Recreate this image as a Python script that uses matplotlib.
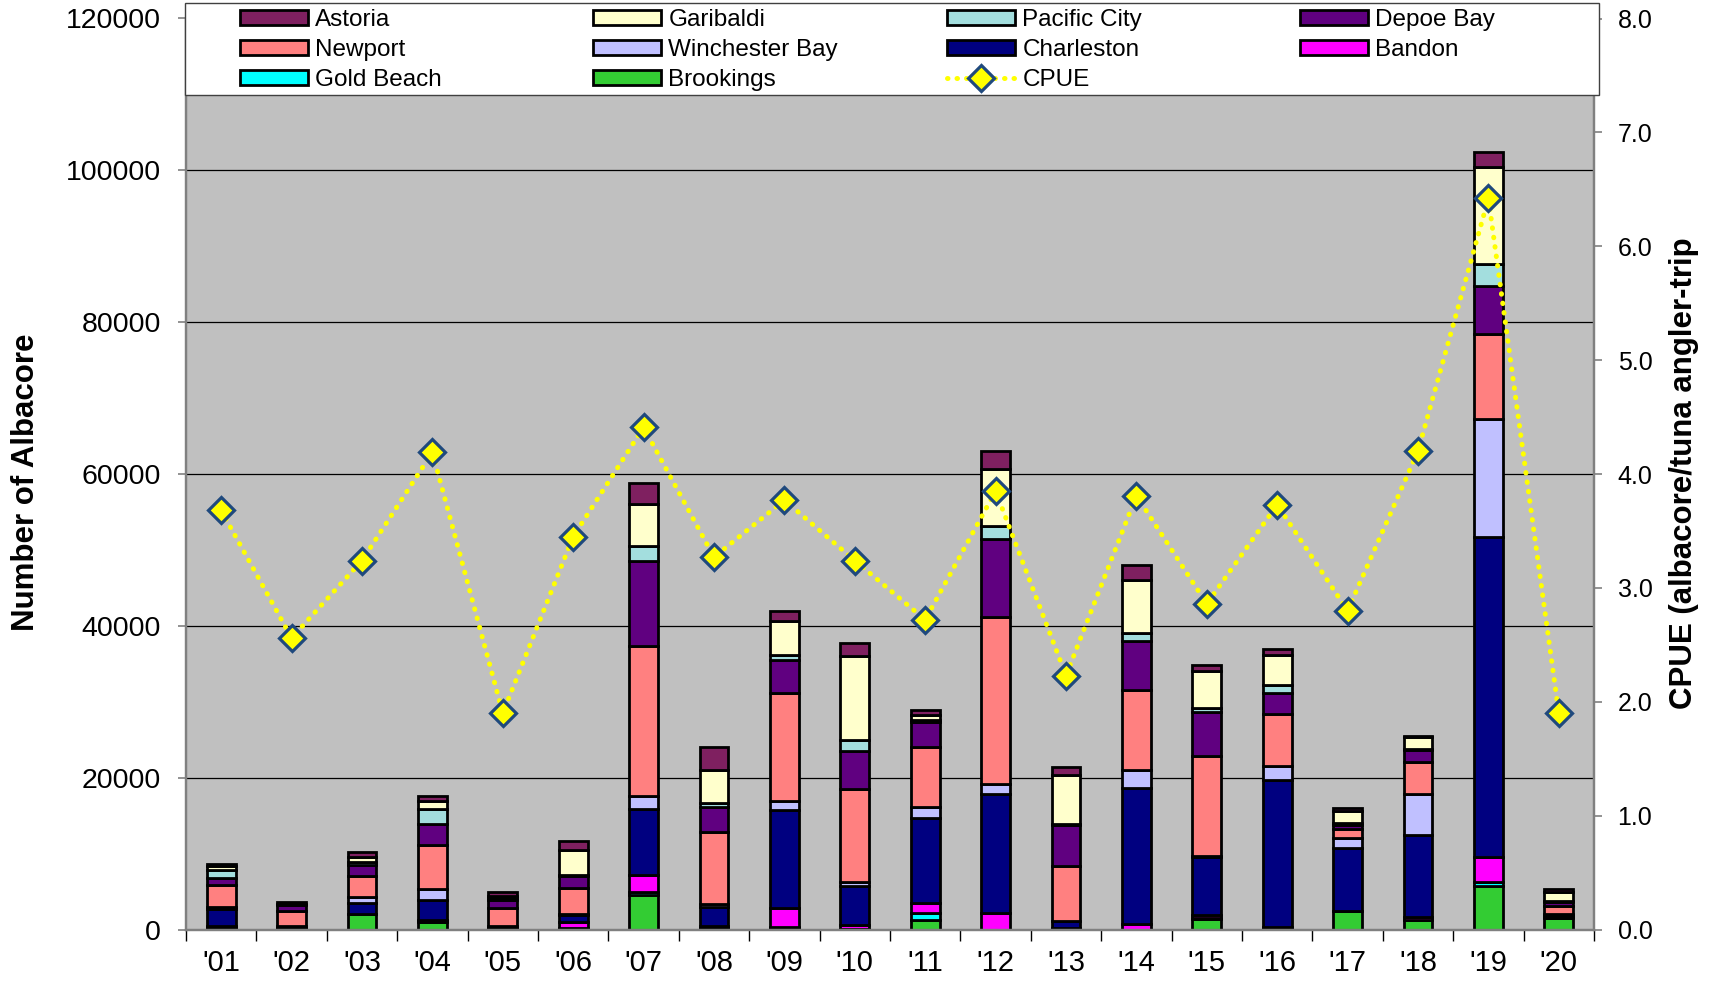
import numpy as np
import matplotlib.pyplot as plt
from matplotlib.patches import Rectangle

plt.rcParams['font.family'] = ['Liberation Sans', 'DejaVu Sans']

##data (albacore landed per port, stacked bottom -> top)
years = ["'01", "'02", "'03", "'04", "'05", "'06", "'07", "'08", "'09", "'10",
         "'11", "'12", "'13", "'14", "'15", "'16", "'17", "'18", "'19", "'20"]

brookings = [300, 100, 2000, 1000, 100, 200, 4500, 200, 200, 100,
             1300, 0, 100, 0, 1400, 0, 2400, 1200, 5700, 1500]
gold_beach = [100, 0, 0, 100, 0, 0, 400, 0, 100, 0,
              900, 0, 0, 0, 100, 0, 0, 100, 600, 0]
bandon = [100, 100, 100, 200, 100, 800, 2300, 200, 2500, 500,
          1300, 2200, 100, 700, 400, 300, 100, 400, 3200, 100]
charleston = [2200, 200, 1400, 2600, 200, 900, 8700, 2600, 13000, 5100,
              11200, 15700, 900, 18000, 7700, 19400, 8200, 10700, 42200, 300]
winchester = [200, 0, 800, 1400, 0, 200, 1700, 300, 1100, 500,
              1400, 1200, 0, 2300, 100, 1800, 1400, 5400, 15500, 100]
newport = [2900, 2000, 2700, 5800, 2400, 3400, 19700, 9500, 14200, 12300,
           7900, 22000, 7300, 10600, 13100, 6900, 1200, 4200, 11300, 1100]
depoe_bay = [1000, 800, 1500, 2800, 1100, 1500, 11200, 3400, 4400, 5000,
             3300, 10400, 5400, 6400, 5800, 2800, 400, 1600, 6200, 500]
pacific_city = [1000, 100, 400, 2000, 200, 200, 2000, 400, 600, 1500,
                300, 1700, 100, 1000, 600, 1000, 300, 200, 2900, 200]
garibaldi = [500, 100, 600, 1000, 300, 3300, 5500, 4400, 4500, 11000,
             600, 7500, 6400, 7000, 4900, 4000, 1600, 1500, 12800, 1200]
astoria = [300, 200, 700, 700, 600, 1100, 2800, 3000, 1400, 1700,
           700, 2300, 1100, 2000, 700, 800, 400, 200, 2000, 300]

cpue = [3.68, 2.56, 3.24, 4.19, 1.90, 3.45, 4.41, 3.27, 3.77, 3.24,
        2.72, 3.85, 2.23, 3.81, 2.86, 3.73, 2.80, 4.20, 6.42, 1.90]

ports = ['Brookings', 'Gold Beach', 'Bandon', 'Charleston', 'Winchester Bay',
         'Newport', 'Depoe Bay', 'Pacific City', 'Garibaldi', 'Astoria']
counts = [brookings, gold_beach, bandon, charleston, winchester,
          newport, depoe_bay, pacific_city, garibaldi, astoria]
colors = ['#33CC33', '#00FFFF', '#FF00FF', '#000080', '#C0C0FF',
          '#FF8080', '#600080', '#A3DEDE', '#FFFFCC', '#7F2060']

W, H = 1711, 988

##set up the figure
fig = plt.figure(figsize=(W / 100, H / 100), dpi=100)
ax = fig.add_axes([186 / W, 1 - 929.5 / H, 1408 / W, 911 / H])
ax.set_facecolor('#C0C0C0')

x = np.arange(len(years))
bottom = np.zeros(len(years))
handles = {}
for name, vals, col in zip(ports, counts, colors):
    handles[name] = ax.bar(x, vals, 0.41, bottom=bottom, color=col,
                           edgecolor='black', linewidth=2.0, zorder=2)
    bottom += np.array(vals)

ax.set_xlim(-0.5, len(years) - 0.5)
ax.set_ylim(0, 120000)
ax.set_yticks(np.arange(0, 120001, 20000))
ax.yaxis.grid(True, color='black', linewidth=0.9)
ax.set_axisbelow(True)

##ticks at category boundaries, labels at centres
ax.set_xticks(np.arange(-0.5, len(years), 1))
ax.set_xticklabels([])
ax.set_xticks(x, minor=True)
ax.set_xticklabels(years, minor=True)
ax.tick_params(axis='x', which='major', length=8, width=1, color='black', direction='out')
ax.tick_params(axis='x', which='minor', length=0, labelsize=21, pad=14)
ax.tick_params(axis='y', length=6, width=1.2, color='#808080', labelsize=20.5, pad=12)

##CPUE on the right axis
ax2 = ax.twinx()
ax2.set_ylim(0, 8)
ax2.set_yticks(np.arange(0, 8.01, 1))
ax2.set_yticklabels(['%.1f' % v for v in np.arange(0, 8.01, 1)])
ax2.tick_params(axis='y', length=6, width=1.2, color='#808080', labelsize=18, pad=11)
cp, = ax2.plot(x, cpue, color='yellow', linewidth=3.6, linestyle=(0, (0.1, 1.8)),
               dash_capstyle='round', marker='D', markersize=13.5,
               markerfacecolor='yellow', markeredgecolor='#1F497D',
               markeredgewidth=2.3, zorder=3)
handles['CPUE'] = cp

for a in (ax, ax2):
    a.spines['top'].set_visible(False)
    for s in ('left', 'right', 'bottom'):
        a.spines[s].set_color('#808080')
        a.spines[s].set_linewidth(1.6)

##legend box across the top
fig.add_artist(Rectangle((185 / W, 1 - 95.5 / H), (1598.6 - 185) / W, 92.5 / H,
                         transform=fig.transFigure, facecolor='white',
                         edgecolor='#404040', linewidth=1, zorder=4))

leg_cols = [['Astoria', 'Newport', 'Gold Beach'],
            ['Garibaldi', 'Winchester Bay', 'Brookings'],
            ['Pacific City', 'Charleston', 'CPUE'],
            ['Depoe Bay', 'Bandon']]
leg_x = [240, 593, 947, 1300]
for names, lx in zip(leg_cols, leg_x):
    cy = 50 if len(names) == 3 else 35
    leg = fig.legend([handles[n] for n in names], names, loc='center left',
                     bbox_to_anchor=(lx / W, 1 - cy / H), frameon=False,
                     borderpad=0, borderaxespad=0, fontsize=17.5,
                     handlelength=2.8, handleheight=0.55, handletextpad=0.3,
                     labelspacing=0.33, numpoints=1)
    leg.set_zorder(5)

##axis titles
fig.text(26 / W, 1 - 482 / H, 'Number of Albacore', rotation=90, ha='center',
         va='center', fontsize=22.5, fontweight='bold')
fig.text(1684 / W, 1 - 473 / H, 'CPUE (albacore/tuna angler-trip', rotation=90,
         ha='center', va='center', fontsize=22.5, fontweight='bold')

fig.savefig('out.png', dpi=100)
